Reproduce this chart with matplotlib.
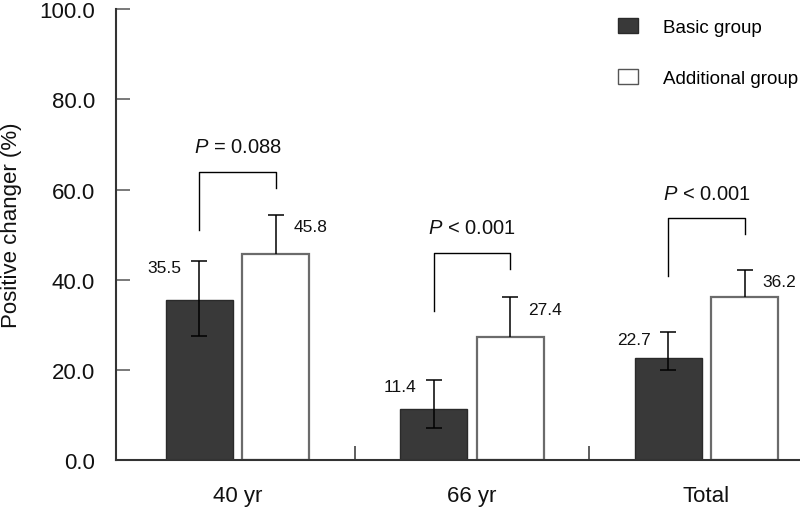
import numpy as np
import matplotlib
matplotlib.use("Agg")
import matplotlib.pyplot as plt
from matplotlib.patches import Patch

plt.rcParams['font.family'] = ['Liberation Sans', 'DejaVu Sans']
plt.rcParams['mathtext.fontset'] = 'custom'
plt.rcParams['mathtext.rm'] = 'Liberation Sans'
plt.rcParams['mathtext.it'] = 'Liberation Sans:italic'

# ---- data ----
categories = ['40 yr', '66 yr', 'Total']
basic = [35.5, 11.4, 22.7]
additional = [45.8, 27.4, 36.2]
basic_ci_low = [27.6, 7.0, 20.0]
basic_ci_high = [44.1, 17.8, 28.3]
additional_ci_high = [54.4, 36.1, 42.1]
p_labels = ['$P$ = 0.088', '$P$ < 0.001', '$P$ < 0.001']
bracket_level = [63.9, 45.9, 53.6]
yticks = [0, 20, 40, 60, 80, 100]
series_names = ['Basic group', 'Additional group']

# ---- style ----
dark = '#393939'
axis_col = '#333333'
off = 0.163
width = 0.286

fig = plt.figure(figsize=(8, 5.1), dpi=100)
ax = fig.add_axes([0.145, 0.096, 0.855, 0.884])

x = np.arange(len(categories))
b = np.array(basic)
a = np.array(additional)

ax.bar(x - off, b, width=width, color=dark, edgecolor='#2a2a2a', linewidth=1.0, zorder=1)
ax.bar(x + off, a, width=width, color='white', edgecolor='#6b6b6b', linewidth=1.6, zorder=1)

eb1 = ax.errorbar(x - off, b, yerr=[b - np.array(basic_ci_low), np.array(basic_ci_high) - b],
                  fmt='none', ecolor='black', elinewidth=1.1, capsize=6, capthick=1.1, zorder=3)
eb2 = ax.errorbar(x + off, a, yerr=[np.zeros_like(a), np.array(additional_ci_high) - a],
                  fmt='none', ecolor='black', elinewidth=1.1, capsize=6, capthick=1.1, zorder=3)
eb2[1][0].set_visible(False)

# value labels
for i in range(len(categories)):
    ax.text(x[i] - off - 0.075, basic_ci_high[i] - 1.5, f'{basic[i]:.1f}',
            ha='right', va='center', fontsize=12.5, color='#111')
    ax.text(x[i] + off + 0.075, additional_ci_high[i] - 2.6, f'{additional[i]:.1f}',
            ha='left', va='center', fontsize=12.5, color='#111')

# significance brackets
for i in range(len(categories)):
    top = bracket_level[i]
    ax.plot([x[i] - off, x[i] - off, x[i] + off, x[i] + off],
            [top - 12.8, top, top, top - 3.5], color='black', lw=1.0, zorder=3)
    ax.text(x[i], top + 5.6, p_labels[i], ha='center', va='center', fontsize=14.5, color='#111')

# axes
ax.set_ylim(0, 100)
ax.set_xlim(-0.518, 2.399)
ax.set_yticks(yticks)
ax.set_yticklabels([f'{v:.1f}' for v in yticks])
ax.set_xticks(x)
ax.set_xticklabels(categories)
ax.set_xticks([0.5, 1.5], minor=True)

for s in ['top', 'right']:
    ax.spines[s].set_visible(False)
for s in ['left', 'bottom']:
    ax.spines[s].set_color(axis_col)
    ax.spines[s].set_linewidth(1.5)

ax.tick_params(axis='y', direction='in', length=10, width=1.1, color='#555555',
               labelsize=16, pad=15, labelcolor='#111')
ax.tick_params(axis='x', which='major', length=0, labelsize=16, pad=18, labelcolor='#111')
ax.tick_params(axis='x', which='minor', direction='in', length=10, width=1.1, color='#333333')

ax.set_ylabel('Positive changer (%)', fontsize=16, color='#111')
ax.yaxis.set_label_coords(-0.138, 0.523)

handles = [Patch(facecolor=dark, edgecolor='#2a2a2a', linewidth=1.0),
           Patch(facecolor='white', edgecolor='#555555', linewidth=1.0)]
fig.legend(handles, series_names, loc='upper left', bbox_to_anchor=(618.3 / 800, 1 - 19 / 510),
           frameon=False, fontsize=13.5, handlelength=1.03, handleheight=0.85,
           handletextpad=1.37, labelspacing=1.76, borderpad=0, borderaxespad=0)

fig.savefig('out.png', dpi=100)
